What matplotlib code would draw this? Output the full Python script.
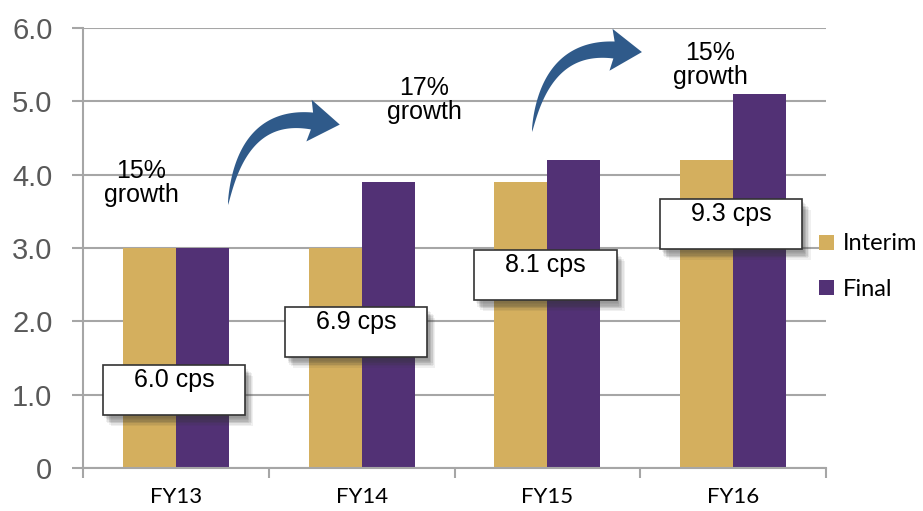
import numpy as np
import matplotlib
matplotlib.use("Agg")
import matplotlib.pyplot as plt
from matplotlib.patches import Rectangle, Polygon
import matplotlib.patheffects as pe

# ---- data ----
categories = ["FY13", "FY14", "FY15", "FY16"]
interim = [3.0, 3.0, 3.9, 4.2]
final = [3.0, 3.9, 4.2, 5.1]
total_labels = ["6.0 cps", "6.9 cps", "8.1 cps", "9.3 cps"]
growth_labels = ["15%\ngrowth", "17%\ngrowth", "15%\ngrowth"]
y_ticks = [0, 1, 2, 3, 4, 5, 6]
y_tick_labels = ["0", "1.0", "2.0", "3.0", "4.0", "5.0", "6.0"]

# ---- styling / layout ----
W, H = 923, 511
C_INTERIM = "#D4AF5E"
C_FINAL = "#523175"
C_ARROW = "#2F5A8A"
C_GRID = "#A6A6A6"
bar_w = 0.285

fig = plt.figure(figsize=(W / 100, H / 100), dpi=100)
ax = fig.add_axes([83 / W, 43 / H, (826 - 83) / W, (468 - 28) / H])

x = np.arange(len(categories))
ax.bar(x - bar_w / 2, interim, bar_w, color=C_INTERIM, label="Interim", zorder=2)
ax.bar(x + bar_w / 2, final, bar_w, color=C_FINAL, label="Final", zorder=2)

ax.set_xlim(-0.5, 3.5)
ax.set_ylim(0, 6)
ax.set_yticks(y_ticks)
ax.set_yticklabels(y_tick_labels, fontfamily="Liberation Sans", fontsize=21,
                   color="#595959")
ax.set_xticks(x)
ax.set_xticklabels(categories, fontfamily="Lato", fontsize=16, color="black")
ax.tick_params(axis="x", length=0, pad=14)
ax.set_xticks(np.arange(-0.5, 4.0, 1.0), minor=True)
ax.tick_params(axis="x", which="minor", length=7, width=1.5, color=C_GRID,
               direction="out")
ax.tick_params(axis="y", length=8, width=1.5, color=C_GRID, pad=14)
ax.yaxis.grid(True, color=C_GRID, linewidth=1.5, zorder=0)
ax.set_axisbelow(True)
for side in ("top", "right"):
    ax.spines[side].set_visible(False)
for side in ("left", "bottom"):
    ax.spines[side].set_color(C_GRID)
    ax.spines[side].set_linewidth(1.5)

# soft drop shadow built from several faint offset copies
soft_shadow = [pe.SimplePatchShadow(offset=(dx, -dy), shadow_rgbFace="#333333",
                                    alpha=0.07)
               for dx, dy in [(1, 2), (2, 3), (3, 4), (4, 5), (5, 6), (2, 5),
                              (4, 7), (6, 8), (3, 6)]]

# ---- total dividend boxes ----
box_w = 0.765
box_h = 0.68
box_top = [1.405, 2.2, 2.97, 3.67]
box_dx = [-0.01, -0.03, -0.01, -0.01]
for i, lab in enumerate(total_labels):
    cx = x[i] + box_dx[i]
    r = Rectangle((cx - box_w / 2, box_top[i] - box_h), box_w, box_h,
                  facecolor="white", edgecolor="#333333", linewidth=1.2,
                  zorder=5, clip_on=False)
    r.set_path_effects(soft_shadow + [pe.Normal()])
    ax.add_patch(r)
    ax.text(cx, box_top[i] - 0.04, lab, ha="center", va="top",
            fontfamily="Liberation Sans", fontsize=18, zorder=6)

# ---- growth annotations ----
growth_pos = [(141, 183), (424, 100), (710, 65)]
for (px, py), lab in zip(growth_pos, growth_labels):
    fig.text(px / W, 1 - py / H, lab, ha="center", va="center",
             fontfamily="Liberation Sans", fontsize=18, linespacing=1.0)


# ---- curved tapered arrows (pixel space, origin top-left) ----
def curved_arrow(p0, p1, p2, shaft=17, head_w=42, head_l=28):
    p0, p1, p2 = map(np.asarray, (p0, p1, p2))
    t = np.linspace(0, 1, 60)[:, None]
    pts = (1 - t) ** 2 * p0 + 2 * (1 - t) * t * p1 + t ** 2 * p2
    tan = 2 * (1 - t) * (p1 - p0) + 2 * t * (p2 - p1)
    tan = tan / np.linalg.norm(tan, axis=1, keepdims=True)
    nrm = np.column_stack([tan[:, 1], -tan[:, 0]])
    half = (shaft / 2) * (t[:, 0] ** 0.7)
    left = pts + nrm * half[:, None]
    right = pts - nrm * half[:, None]
    end, d, n = pts[-1], tan[-1], nrm[-1]
    head = [end + n * head_w / 2 - d * 3, end + d * head_l,
            end - n * head_w / 2 - d * 3]
    outline = np.vstack([left, [head[0]], [head[1]], [head[2]], right[::-1]])
    outline[:, 0] /= W
    outline[:, 1] = 1 - outline[:, 1] / H
    fig.patches.append(Polygon(outline, closed=True, facecolor=C_ARROW,
                               edgecolor="none", transform=fig.transFigure,
                               zorder=4))


curved_arrow((228, 205), (242, 112), (312, 121))
curved_arrow((532, 132), (546, 45), (614, 50))

# ---- legend ----
fig.legend(loc="upper left", bbox_to_anchor=(810 / W, 1 - 224 / H),
           frameon=False, prop={"family": "Lato", "size": 17},
           handlelength=0.6, handleheight=0.6, handletextpad=0.4,
           labelspacing=1.05, borderaxespad=0)

fig.savefig("out.png", dpi=100)
